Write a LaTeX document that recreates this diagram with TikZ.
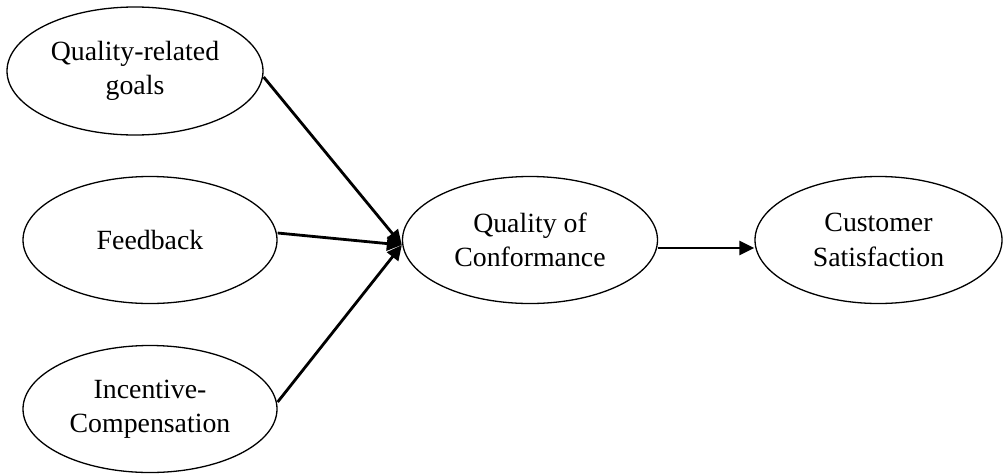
\documentclass[tikz,border=0pt]{standalone}
\usepackage{fontspec}
\setmainfont{Liberation Serif}
\usetikzlibrary{shapes.geometric,arrows.meta}
\begin{document}
\begin{tikzpicture}[x=1pt,y=1pt,
  oval/.style={draw=black, line width=1.3pt, ellipse, inner sep=0pt,
    minimum width=254pt, minimum height=127pt, align=center,
    font=\fontsize{27.8}{34.5}\selectfont},
  link/.style={draw=black, line width=2.8pt,
    -{Triangle[length=15pt,width=14pt]}}
]
\useasboundingbox (0,0) rectangle (1003,-474);
\node[oval, minimum width=256pt, minimum height=128pt] (q1) at (135,-71) {Quality-related\\goals};
\node[oval] (fb) at (150,-240) {Feedback};
\node[oval] (ic) at (150,-409) {Incentive-\\Compensation};
\node[oval, minimum width=255pt] (qc) at (530,-240) {Quality of\\Conformance};
\node[oval, minimum width=247pt] (cs) at (878.5,-240) {Customer\\Satisfaction};
\draw[link] ([yshift=-6pt]q1.east) -- ([yshift=-5pt]qc.west);
\draw[link] ([yshift=7pt]fb.east) -- ([yshift=-5pt]qc.west);
\draw[link] ([yshift=7pt]ic.east) -- ([yshift=-5pt]qc.west);
\draw[link] ([yshift=-8pt]qc.east) -- ([yshift=-8pt]cs.west);
\end{tikzpicture}
\end{document}
